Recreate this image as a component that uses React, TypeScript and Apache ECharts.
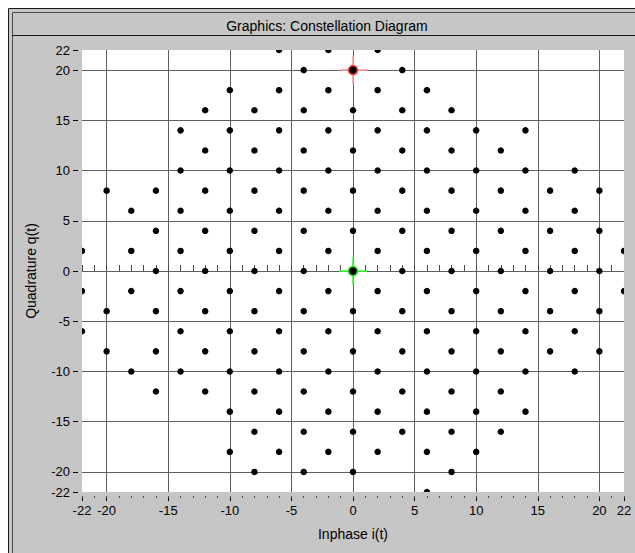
import React, { useEffect, useRef } from "react";
import * as echarts from "echarts";

// Constellation points: for each quadrature level, the inphase values of its points
const quadratureRows = [22, 20, 18, 16, 14, 12, 10, 8, 6, 4, 2, 0, -2, -4, -6, -8, -10, -12, -14, -16, -18, -20, -22];
const inphaseByRow = [
  [-6, -2, 2],
  [-4, 0, 4],
  [-10, -6, -2, 2, 6],
  [-12, -8, -4, 0, 4, 8],
  [-14, -10, -6, -2, 2, 6, 10, 14],
  [-12, -8, -4, 0, 4, 8, 12],
  [-14, -10, -6, -2, 2, 6, 10, 14, 18],
  [-20, -16, -12, -8, -4, 0, 4, 8, 12, 16, 20],
  [-18, -14, -10, -6, -2, 2, 6, 10, 14, 18],
  [-16, -12, -8, -4, 0, 4, 8, 12, 16, 20],
  [-22, -18, -14, -10, -6, -2, 2, 6, 10, 14, 18, 22],
  [-16, -12, -8, -4, 0, 4, 8, 12, 16, 20],
  [-22, -18, -14, -10, -6, -2, 2, 6, 10, 14, 18, 22],
  [-20, -16, -12, -8, -4, 0, 4, 8, 12, 16, 20],
  [-22, -14, -10, -6, -2, 2, 6, 10, 14, 18],
  [-20, -16, -12, -8, -4, 0, 4, 8, 12, 16, 20],
  [-18, -14, -10, -6, -2, 2, 6, 10, 14, 18],
  [-16, -12, -8, -4, 0, 4, 8, 12],
  [-10, -6, -2, 2, 6, 10, 14],
  [-8, -4, 0, 4, 8, 12],
  [-10, -6, -2, 2, 6, 10],
  [-8, -4, 0, 8],
  [6],
];

const axisMin = -22;
const axisMax = 22;
const xTickValues = [-22, -20, -15, -10, -5, 0, 5, 10, 15, 20, 22];
const yTickValues = [-22, -20, -15, -10, -5, 0, 5, 10, 15, 20, 22];
const minorTickStep = 1;

const redMarker = [0, 20];
const greenMarker = [0, 0];

const titleText = "Graphics: Constellation Diagram";
const xName = "Inphase i(t)";
const yName = "Quadrature q(t)";

const FONT = "'Liberation Sans', Arial, sans-serif";
const GRAY = "#c6c6c6";
const GRID_COLOR = "#5e5e5e";
const CROSS_PATH = "path://M0,13L28,13L28,15L0,15Z M13,0L15,0L15,28L13,28Z";

export default function App() {
  const ref = useRef<HTMLDivElement>(null);

  useEffect(() => {
    if (!ref.current) return;
    const chart = echarts.init(ref.current, undefined, { renderer: "svg" });

    const points: number[][] = [];
    quadratureRows.forEach((q, r) => {
      inphaseByRow[r].forEach((i) => points.push([i, q]));
    });

    const gridLeft = 82;
    const gridTop = 50;
    const gridWidth = 542;
    const gridHeight = 442;

    const mainAxisCommon = {
      type: "value" as const,
      min: axisMin,
      max: axisMax,
      splitNumber: 9,
      offset: 4,
      axisLine: { show: false, onZero: false },
      splitLine: {
        show: true,
        showMinLine: false,
        showMaxLine: false,
        lineStyle: { color: GRID_COLOR, width: 1 },
      },
      nameLocation: "middle" as const,
      nameTextStyle: { color: "#000", fontSize: 14, fontFamily: FONT },
    };

    const option: any = {
      animation: false,
      graphic: [
        {
          type: "rect",
          z: -10,
          shape: { x: 8.5, y: 8.5, width: 700, height: 700 },
          style: { fill: GRAY, stroke: "#1a1a1a", lineWidth: 1 },
        },
        {
          type: "rect",
          z: -9,
          shape: { x: 12.5, y: 12.5, width: 700, height: 700 },
          style: { fill: "none", stroke: "#4a4a4a", lineWidth: 1 },
        },
        {
          type: "line",
          z: -9,
          shape: { x1: 12, y1: 35.5, x2: 700, y2: 35.5 },
          style: { stroke: "#1a1a1a", lineWidth: 1 },
        },
        {
          type: "text",
          z: 5,
          x: 327,
          y: 26,
          style: {
            text: titleText,
            textAlign: "center",
            textVerticalAlign: "middle",
            fill: "#000",
            font: `14px ${FONT}`,
          },
        },
        // thin gray strips around the plot that clip points on its edges
        {
          type: "rect",
          z: 100,
          shape: { x: gridLeft - 4, y: gridTop - 4, width: gridWidth + 8, height: 4 },
          style: { fill: GRAY },
        },
        {
          type: "rect",
          z: 100,
          shape: { x: gridLeft - 4, y: gridTop + gridHeight, width: gridWidth + 8, height: 4 },
          style: { fill: GRAY },
        },
        {
          type: "rect",
          z: 100,
          shape: { x: gridLeft - 4, y: gridTop - 4, width: 4, height: gridHeight + 8 },
          style: { fill: GRAY },
        },
        {
          type: "rect",
          z: 100,
          shape: { x: gridLeft + gridWidth, y: gridTop - 4, width: 4, height: gridHeight + 8 },
          style: { fill: GRAY },
        },
      ],
      grid: {
        left: gridLeft,
        top: gridTop,
        width: gridWidth,
        height: gridHeight,
        show: true,
        backgroundColor: "#ffffff",
        borderWidth: 0,
        containLabel: false,
      },
      xAxis: [
        {
          ...mainAxisCommon,
          position: "bottom",
          name: xName,
          nameGap: 31,
          axisTick: {
            show: true,
            length: 5,
            customValues: xTickValues,
            lineStyle: { color: "#000", width: 1 },
          },
          axisLabel: {
            customValues: xTickValues,
            showMinLabel: true,
            showMaxLabel: true,
            margin: 8,
            color: "#000",
            fontSize: 13,
            fontFamily: FONT,
          },
        },
        {
          type: "value",
          min: axisMin,
          max: axisMax,
          interval: minorTickStep,
          position: "bottom",
          axisLine: { show: true, onZero: true, lineStyle: { color: GRID_COLOR, width: 1 } },
          axisTick: { show: true, inside: true, length: 6, lineStyle: { color: "#4a4a4a", width: 1 } },
          axisLabel: { show: false },
          splitLine: { show: false },
        },
        {
          type: "value",
          min: axisMin,
          max: axisMax,
          interval: minorTickStep,
          position: "bottom",
          axisLine: { show: true, onZero: true, lineStyle: { color: GRID_COLOR, width: 1 } },
          axisTick: { show: true, inside: false, length: 6, lineStyle: { color: "#4a4a4a", width: 1 } },
          axisLabel: { show: false },
          splitLine: { show: false },
        },
      ],
      yAxis: [
        {
          ...mainAxisCommon,
          position: "left",
          name: yName,
          nameGap: 40,
          nameRotate: 90,
          axisTick: {
            show: true,
            length: 5,
            customValues: yTickValues,
            lineStyle: { color: "#000", width: 1 },
          },
          axisLabel: {
            customValues: yTickValues,
            showMinLabel: true,
            showMaxLabel: true,
            margin: 8,
            color: "#000",
            fontSize: 13,
            fontFamily: FONT,
          },
        },
      ],
      series: [
        {
          name: "redCross",
          type: "scatter",
          xAxisIndex: 0,
          yAxisIndex: 0,
          symbol: CROSS_PATH,
          symbolSize: 28,
          silent: true,
          itemStyle: { color: "#ff9c9c" },
          data: [redMarker],
        },
        {
          name: "greenCross",
          type: "scatter",
          xAxisIndex: 0,
          yAxisIndex: 0,
          symbol: CROSS_PATH,
          symbolSize: 28,
          silent: true,
          itemStyle: { color: "#33ff33" },
          data: [greenMarker],
        },
        {
          name: "constellation",
          type: "scatter",
          xAxisIndex: 0,
          yAxisIndex: 0,
          symbol: "circle",
          symbolSize: 6.5,
          silent: true,
          itemStyle: { color: "#000", opacity: 1 },
          data: points,
        },
        {
          name: "redRing",
          type: "scatter",
          xAxisIndex: 0,
          yAxisIndex: 0,
          symbol: "circle",
          symbolSize: 9,
          silent: true,
          itemStyle: { color: "#000", borderColor: "#ff4040", borderWidth: 1.5, opacity: 1 },
          data: [redMarker],
        },
        {
          name: "greenRing",
          type: "scatter",
          xAxisIndex: 0,
          yAxisIndex: 0,
          symbol: "circle",
          symbolSize: 9,
          silent: true,
          itemStyle: { color: "#000", borderColor: "#22dd22", borderWidth: 1.5, opacity: 1 },
          data: [greenMarker],
        },
      ],
    };

    chart.setOption(option);
    return () => chart.dispose();
  }, []);

  return (
    <div
      ref={ref}
      style={{ position: "absolute", left: 0, top: 0, width: 635, height: 553 }}
    />
  );
}
